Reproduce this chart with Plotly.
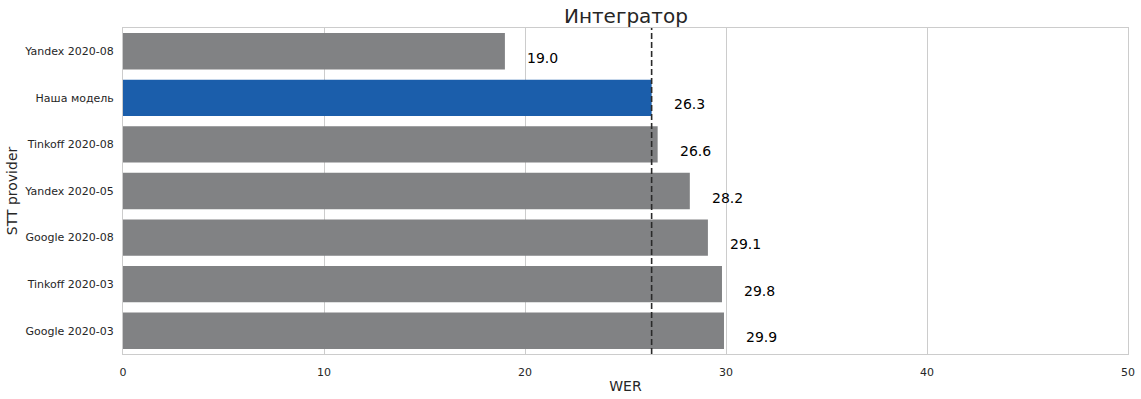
import plotly.graph_objects as go

providers = ["Yandex 2020-08", "Наша модель", "Tinkoff 2020-08", "Yandex 2020-05",
             "Google 2020-08", "Tinkoff 2020-03", "Google 2020-03"]
wer = [19.0, 26.3, 26.6, 28.2, 29.1, 29.8, 29.9]
highlight = "Наша модель"
title = "Интегратор"

grey = "#818284"
blue = "#1b5eab"
colors = [blue if p == highlight else grey for p in providers]
ref_value = wer[providers.index(highlight)]

font = "DejaVu Sans"
fig = go.Figure()
fig.add_trace(go.Bar(
    x=wer, y=providers, orientation="h", marker=dict(color=colors, line=dict(width=0)),
    width=0.78, hoverinfo="x+y",
))

for p, v in zip(providers, wer):
    idx = providers.index(p)
    fig.add_annotation(
        x=v + 1, y=idx + 0.14, xref="x", yref="y", text=f"{v:.1f}",
        showarrow=False, xanchor="left", yanchor="middle",
        font=dict(family=font, size=14, color="black"),
    )

fig.add_shape(type="line", xref="x", yref="paper", x0=ref_value, x1=ref_value, y0=0, y1=1,
              line=dict(color="#2a2a2a", width=1.6, dash="6px,3px"))

fig.update_layout(
    width=1141, height=399,
    margin=dict(l=123, r=13, t=28, b=45, autoexpand=False),
    paper_bgcolor="white", plot_bgcolor="white",
    title=dict(text=title, x=0.5486, xanchor="center", y=0.96, yanchor="middle",
               automargin=False,
               font=dict(family=font, size=20, color="#262626")),
    showlegend=False,
    bargap=0.2,
    xaxis=dict(range=[0, 50], tickvals=[0, 10, 20, 30, 40, 50], showgrid=True,
               gridcolor="#cccccc", gridwidth=1, zeroline=False, automargin=False,
               showline=True, linecolor="#cccccc", linewidth=1, mirror=True,
               ticks="", ticklabelstandoff=8,
               tickfont=dict(family=font, size=11, color="#262626"),
               title=dict(text="WER", font=dict(family=font, size=14, color="#262626"), standoff=2)),
    yaxis=dict(type="category", categoryorder="array", categoryarray=providers,
               range=[6.5, -0.5], showgrid=False, zeroline=False, automargin=False,
               showline=True, linecolor="#cccccc", linewidth=1, mirror=True,
               ticks="", ticklabelstandoff=6,
               tickfont=dict(family=font, size=11, color="#262626"),
               title=dict(text="STT provider", font=dict(family=font, size=14, color="#262626"), standoff=3)),
)

fig.write_html("out.html", config={"displayModeBar": False},
               post_script="document.body.style.margin='0';document.body.style.overflow='hidden';")
